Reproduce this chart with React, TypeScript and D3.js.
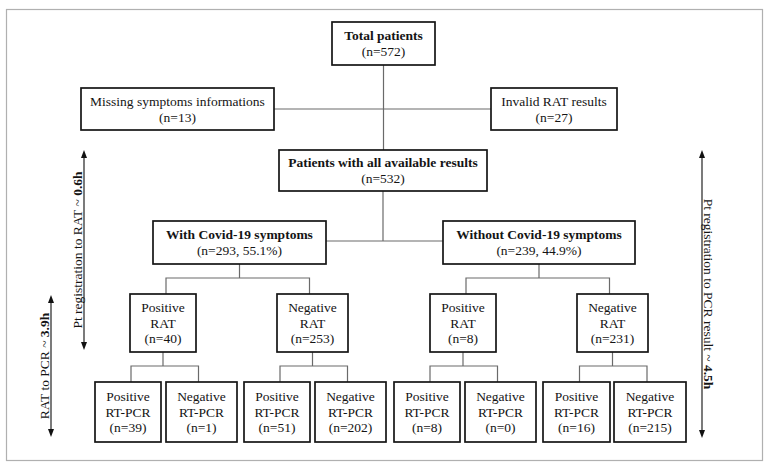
import React from "react";
import * as d3 from "d3";

// ---- data ----
const nodeIds = ["total", "missing", "invalid", "all", "with", "without",
  "posRat1", "negRat1", "posRat2", "negRat2",
  "pp1", "pn1", "np1", "nn1", "pp2", "pn2", "np2", "nn2"];
const nodeTitles = [
  ["Total patients"], ["Missing symptoms informations"], ["Invalid RAT results"],
  ["Patients with all available results"], ["With Covid-19 symptoms"], ["Without Covid-19 symptoms"],
  ["Positive", "RAT"], ["Negative", "RAT"], ["Positive", "RAT"], ["Negative", "RAT"],
  ["Positive", "RT-PCR"], ["Negative", "RT-PCR"], ["Positive", "RT-PCR"], ["Negative", "RT-PCR"],
  ["Positive", "RT-PCR"], ["Negative", "RT-PCR"], ["Positive", "RT-PCR"], ["Negative", "RT-PCR"],
];
const nodeCounts = ["n=572", "n=13", "n=27", "n=532", "n=293, 55.1%", "n=239, 44.9%",
  "n=40", "n=253", "n=8", "n=231",
  "n=39", "n=1", "n=51", "n=202", "n=8", "n=0", "n=16", "n=215"];
const boldTitle = [true, false, false, true, true, true,
  false, false, false, false, false, false, false, false, false, false, false, false];
const splits: [string, string[]][] = [
  ["with", ["posRat1", "negRat1"]], ["without", ["posRat2", "negRat2"]],
  ["posRat1", ["pp1", "pn1"]], ["negRat1", ["np1", "nn1"]],
  ["posRat2", ["pp2", "pn2"]], ["negRat2", ["np2", "nn2"]],
];
const timeLabels = [
  { text: "Pt registration to RAT ~ ", bold: "0.6h" },
  { text: "RAT to PCR ~ ", bold: "3.9h" },
  { text: "Pt registration to PCR result ~ ", bold: "4.5h" },
];

// ---- layout ----
const layout: Record<string, [number, number, number, number]> = {
  total: [332, 22, 435, 65],
  missing: [81, 88, 274, 130],
  invalid: [491, 88, 617, 130],
  all: [279, 150, 487, 191],
  with: [153, 221, 326, 264],
  without: [443, 221, 635, 264],
  posRat1: [130, 294, 196, 352],
  negRat1: [277, 294, 348, 352],
  posRat2: [430, 294, 496, 352],
  negRat2: [577, 294, 648, 352],
  pp1: [95, 382, 161, 442],
  pn1: [166, 382, 237, 442],
  np1: [244, 382, 310, 442],
  nn1: [315, 382, 386, 442],
  pp2: [394, 382, 460, 442],
  pn2: [465, 382, 536, 442],
  np2: [543, 382, 610, 442],
  nn2: [614, 382, 686, 442],
};
const arrows = [
  { x: 84, y0: 150, y1: 350, tx: 77, rot: -90 },
  { x: 51, y0: 295, y1: 437, tx: 44, rot: -90 },
  { x: 702, y0: 150, y1: 438, tx: 709, rot: 90 },
];

const FONT = "'Liberation Serif', 'Times New Roman', serif";
const LINE = "#6a6a6a";

export default function App() {
  const cx = (id: string) => (layout[id][0] + layout[id][2]) / 2;
  const line = d3.line<[number, number]>();
  const paths: string[] = [];
  paths.push(line([[cx("total"), layout.total[3]], [cx("total"), layout.all[1]]])!);
  paths.push(line([[layout.missing[2], 109], [layout.invalid[0], 109]])!);
  const ySplit = 241;
  paths.push(line([[cx("all"), layout.all[3]], [cx("all"), ySplit]])!);
  paths.push(line([[layout.with[2], ySplit], [layout.without[0], ySplit]])!);
  splits.forEach(([p, kids]) => {
    const pb = layout[p][3];
    const kt = layout[kids[0]][1];
    const ym = pb + (kt - pb) * 0.5 - 1;
    const px = cx(p);
    const x0 = cx(kids[0]) + 3, x1 = cx(kids[1]) - 3;
    paths.push(line([[px, pb], [px, ym]])!);
    paths.push(line([[x0, kt], [x0, ym], [x1, ym], [x1, kt]])!);
  });

  return (
    <svg width={768} height={468} style={{ position: "absolute", left: 0, top: 0, background: "#fff" }}
      fontFamily={FONT}>
      <rect x={6.5} y={9.5} width={756} height={451} fill="none" stroke="#b0b0b0" strokeWidth={1.2} />
      {paths.map((d, i) => (
        <path key={i} d={d} fill="none" stroke={LINE} strokeWidth={1.2} />
      ))}
      {nodeIds.map((id, i) => {
        const [x0, y0, x1, y1] = layout[id];
        const lines = [...nodeTitles[i], `(${nodeCounts[i]})`];
        const mid = (y0 + y1) / 2;
        const sp = lines.length > 2 ? 15.5 : 16;
        const start = mid - ((lines.length - 1) * sp) / 2;
        return (
          <g key={id}>
            <rect x={x0} y={y0} width={x1 - x0} height={y1 - y0} fill="#fff" stroke="#151515" strokeWidth={1.7} />
            {lines.map((t, j) => (
              <text key={j} x={(x0 + x1) / 2} y={start + j * sp} dy="0.35em" textAnchor="middle"
                fontSize={13.5} fill="#141414"
                fontWeight={boldTitle[i] && j < nodeTitles[i].length ? "bold" : "normal"}>
                {t}
              </text>
            ))}
          </g>
        );
      })}
      {arrows.map((a, i) => {
        const mid = (a.y0 + a.y1) / 2;
        return (
          <g key={i}>
            <line x1={a.x} x2={a.x} y1={a.y0 + 6} y2={a.y1 - 6} stroke="#222" strokeWidth={1.2} />
            <path d={`M${a.x},${a.y0} L${a.x - 3},${a.y0 + 8} L${a.x + 3},${a.y0 + 8} Z`} fill="#111" />
            <path d={`M${a.x},${a.y1} L${a.x - 3},${a.y1 - 8} L${a.x + 3},${a.y1 - 8} Z`} fill="#111" />
            <text transform={`translate(${a.tx},${mid}) rotate(${a.rot})`} textAnchor="middle" dy="0.35em"
              fontSize={13.5} fill="#141414">
              {timeLabels[i].text}
              <tspan fontWeight="bold">{timeLabels[i].bold}</tspan>
            </text>
          </g>
        );
      })}
    </svg>
  );
}
